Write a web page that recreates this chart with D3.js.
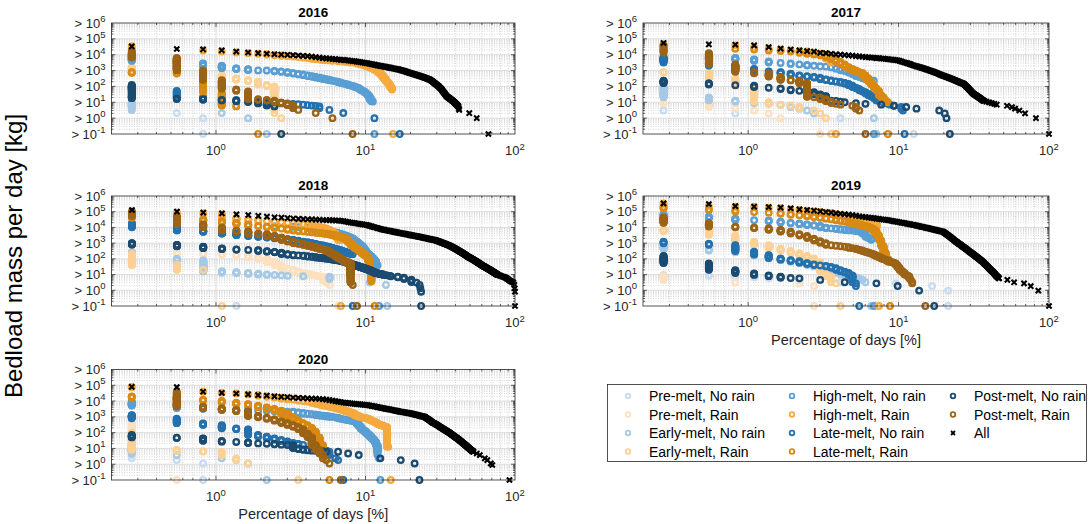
<!DOCTYPE html>
<html><head><meta charset="utf-8">
<script src="https://cdn.jsdelivr.net/npm/d3@7"></script>
<style>
body{margin:0;background:#fff;}
svg{font-family:"Liberation Sans",Arial,Helvetica,sans-serif;}
</style></head><body>
<svg id="chart" width="1092" height="524"></svg>
<script>
// Exceedance plots of daily bedload mass, one panel per year.
// Mass values are stored as log10(kg). For every threshold (the distinct
// daily masses of the year), each category is placed at the share of days
// on which its mass reached that threshold. The "> 10^-1" row holds the
// share of all days of the category (days with no transport included).

const yearList = [2016, 2017, 2018, 2019, 2020];
const daysInYear = [366, 365, 365, 365, 366];
const allDays = [243, 365, 365, 365, 336];

const categoryNames = ["Pre-melt, No rain", "Pre-melt, Rain", "Early-melt, No rain", "Early-melt, Rain",
  "High-melt, No rain", "High-melt, Rain", "Late-melt, No rain", "Late-melt, Rain",
  "Post-melt, No rain", "Post-melt, Rain"];
const categoryColors = ["#c9dcef", "#fde0bf", "#a6c9e5", "#fcd195", "#5a9fd4", "#f6aa3e",
  "#2471ae", "#d98a12", "#1b4b70", "#9c6417"];

const yTickExponents = [-1, 0, 1, 2, 3, 4, 5, 6];
const xTickExponents = [0, 1, 2];

// ---- 2016 ----
const allHead2016 = [4.53,4.36,4.34,4.27,4.2,4.14,4.1,4.06,4.03,4.01,
3.99,3.97,3.95,3.93,3.91,3.88,3.85,3.82,3.79,3.77,3.75,3.73,3.72,3.7,3.68,3.67,3.65,3.64,3.62,3.6,
3.59,3.57,3.55,3.53,3.51,3.49,3.47,3.45,3.43,3.41,3.39,3.37,3.35,3.33,3.31,3.3,3.28,3.26,3.25,3.23,
3.22,3.2,3.19,3.17,3.16,3.14,3.13,3.11,3.1,3.08,3.07,3.05,3.03,3.01,3,2.98,2.96,2.94,2.92,2.9,
2.88,2.86,2.84,2.83,2.81,2.79,2.78,2.76,2.75,2.73,2.71,2.7,2.68,2.66,2.65,2.63,2.62,2.6,2.58,2.57,
2.55,2.53,2.52,2.5,2.49,2.47,2.45,2.44,2.42,2.39,2.36,2.33,2.3,2.27,2.24,2.21,2.18,2.15,2.12,2.09,
2.06,2.03,2,1.96,1.93,1.9,1.86,1.81,1.77,1.72,1.68,1.63,1.59,1.55,1.5,1.46,1.41,1.37,1.35,1.33,
1.3,1.28,1.26,1.23,1.21,1.19,1.16,1.14,1.12,1.1,1.07,1.05,1.02,0.99,0.96,0.93,0.9,0.88,0.85,0.82,
0.79,0.77,0.74,0.63,0.52];
const allTail2016 = [[0.32,181],[0,203]];
const mass2016 = [
  [1.0,0.35,0],
  [],
  [1.0,0.5,0.32,0.32,0,0],
  [3.2,3.05,2.9,2.7,2.5,2.4,2.3,2.1,2.0,0],
  [3.9,3.6,3.45,3.3,3.15,3.08,3.02,3.0,2.98,2.95,2.9,2.85,2.8,2.75,2.7,2.65,2.6,2.55,2.5,2.45,2.42,2.38,2.34,2.3,2.25,2.2,2.16,2.12,2.08,2.04,2.0,1.95,1.9,1.83,1.76,1.68,1.6,1.5,1.37,1.2,1.05],
  [4.55,4.33,4.31,4.24,4.18,4.12,4.08,4.04,4.0,3.96,3.92,3.89,3.86,3.83,3.8,3.77,3.74,3.71,3.68,3.66,3.64,3.62,3.61,3.6,3.58,3.57,3.56,3.54,3.52,3.5,3.49,3.47,3.44,3.41,3.38,3.35,3.31,3.27,3.23,3.19,3.15,3.1,3.05,3.0,2.92,2.84,2.76,2.66,2.55,2.45,2.35,2.25,2.15,2.0,1.9,1.79],
  [2.0,1.75,1.3,1.2,1.15,1.1,1.08,1.05,1.0,0.96,0.93,0.9,0.88,0.85,0.82,0.79,0.77,0.74,0.52,0.52,0.52,0.45,0.4,0.32,0.32,0.32,0,0,0,0,0,0,0,0,0,0,0,0,0,0,0,0],
  [2.9,2.85,2.8,1.6,0.78,0.7],
  [2.1,1.25,1.2,1.15,1.1,1.05,1.0,0.9,0.78,0.7],
  [4.2,3.8,3.0,2.4,1.85,1.7,1.2,1.15,1.1,1.0,0.9,0.8,0.52,0.32,0.32,0.32,0.32,0,0,0,0,0]
];
const catDays2016 = [3,0,8,10,42,56,62,7,10,30];

// ---- 2017 ----
const allHead2017 = [4.74,4.65,4.63,4.59,4.48,4.38,4.33,4.27,4.23,4.2,
4.12,4.1,4.06,4.02,4,3.98,3.96,3.94,3.91,3.89,3.87,3.85,3.84,3.82,3.81,3.79,3.78,3.76,3.75,3.73,
3.72,3.7,3.69,3.67,3.66,3.64,3.61,3.58,3.54,3.51,3.48,3.45,3.42,3.39,3.35,3.32,3.3,3.27,3.25,3.22,
3.2,3.17,3.15,3.12,3.1,3.07,3.05,3.02,3,2.98,2.95,2.93,2.9,2.88,2.85,2.83,2.8,2.78,2.75,2.73,
2.7,2.68,2.66,2.64,2.62,2.6,2.58,2.56,2.54,2.52,2.5,2.48,2.46,2.44,2.42,2.4,2.38,2.36,2.34,2.32,
2.3,2.28,2.26,2.24,2.22,2.21,2.19,2.18,2.16,2.12,2.08,2.04,2,1.96,1.92,1.88,1.84,1.8,1.76,1.72,
1.68,1.64,1.6,1.56,1.53,1.51,1.49,1.46,1.44,1.42,1.39,1.37,1.35,1.32,1.3,1.28,1.26,1.23,1.21,1.19,
1.16,1.14,1.12,1.1];
const allTail2017 = [[1.08,136],[1.04,140],[1,146],[0.95,152],[0.9,158],[0.85,164],[0.78,192],[0.7,207],[0.6,217],[0.48,232],[0.3,253],[0,299]];
const mass2017 = [
  [0.48,0.3,0.3,0,0,0,0,0,0,0,0,0,0,0,0],
  [1.0,0.9,0.6,0.48,0.3,0],
  [2.0,1.3,1.1,1.0,0.9,0.85,0.78,0.6,0.48,0.3,0,0,0,0,0,0,0,0,0,0,0,0,0,0,0],
  [2.9,2.85,2.5,2.0,1.0,0.85,0.78,0.7,0.5,0.48,0.3,0],
  [3.9,3.85,3.8,3.7,3.6,3.5,3.45,3.4,3.35,3.3,3.28,3.25,3.22,3.18,3.1,3.0,2.95,2.85,2.75,2.65,2.58,2.5,2.45,2.38,2.36],
  [4.7,4.62,4.6,4.55,4.45,4.35,4.3,4.24,4.2,4.15,4.08,4.0,3.75,3.5],
  [3.8,3.5,3.3,3.1,2.95,2.9,2.8,2.7,2.65,2.6,2.55,2.45,2.38,2.33,2.28,2.22,2.16,2.05,1.95,1.85,1.74,1.65,1.55,1.43,1.35,1.25,1.11,1.05,1.0,0.95,0.9,0.85,0.8,0.78,0.75,0.72,0.7,0.7,0.48],
  [4.5,4.45,4.4,4.35,4.3,4.25,4.2,4.15,4.1,4.05,4.0,3.95,3.85,3.7,3.55,3.4,3.22,3.1,3.0,2.9,2.85,2.7,2.5,2.3,2.1,1.9,1.74,1.45,1.3,1.1,1.0],
  [2.37,2.2,2.1,2.05,1.95,1.9,1.8,1.74,1.7,1.64,1.5,1.4,1.1,1.08,1.04,1.0,0.95,0.95,0.95,0.9,0.9,0.9,
   0.85,0.85,0.85,0.85,0.85,0.85,0.78,0.78,0.78,0.78,0.78,0.78,0.7,0.7,0.7,0.7,0.7,0.7,0.7,
   0.6,0.6,0.6,0.6,0.6,0.6,0.6,0.48,0.48,0.48,0.48,0.48,0.48,0.48,0.48,0.48,0.48,0.48,0.48,0.48,0.48,0.48,0.48,0.48,0.48,0.48,0.48,
   0.3,0.3,0.3,0.3,0.3,0.3,0,0],
  [4.6,4.1,3.4,2.9,2.8,2.6,2.4,2.37,2.2,1.32,1.3,1.2,1.05,0.9,0.85,0.78,0.78,0.78,0.7,0.48]
];
const catDays2017 = [46,11,26,13,25,14,40,31,80,22];

// ---- 2018 ----
const allHead2018 = [5.11,5,4.94,4.9,4.83,4.79,4.73,4.69,4.64,4.62,
4.59,4.57,4.55,4.53,4.52,4.51,4.5,4.49,4.47,4.46,4.46,4.45,4.44,4.44,4.42,4.4,4.37,4.34,4.31,4.29,
4.27,4.25,4.23,4.21,4.19,4.17,4.16,4.13,4.1,4.07,4.04,4.01,3.98,3.96,3.93,3.9,3.88,3.86,3.84,3.82,
3.81,3.79,3.78,3.76,3.75,3.73,3.72,3.7,3.69,3.67,3.66,3.64,3.63,3.62,3.61,3.6,3.58,3.57,3.56,3.55,
3.54,3.53,3.51,3.5,3.49,3.48,3.47,3.46,3.45,3.44,3.43,3.42,3.41,3.4,3.39,3.38,3.37,3.36,3.35,3.34,
3.33,3.32,3.31,3.3,3.29,3.28,3.27,3.26,3.25,3.24,3.23,3.23,3.22,3.21,3.2,3.2,3.19,3.17,3.16,3.15,
3.13,3.12,3.11,3.09,3.08,3.07,3.05,3.04,3.03,3.01,3,2.99,2.97,2.96,2.95,2.93,2.92,2.91,2.89,2.88,
2.87,2.85,2.84,2.83,2.81,2.8,2.78,2.76,2.75,2.73,2.71,2.7,2.68,2.67,2.65,2.63,2.62,2.6,2.59,2.57,
2.55,2.54,2.52,2.51,2.49,2.47,2.46,2.44,2.43,2.41,2.39,2.38,2.36,2.35,2.33,2.31,2.3,2.28,2.27,2.25,
2.23,2.22,2.2,2.19,2.17,2.15,2.14,2.13,2.11,2.1,2.09,2.08,2.06,2.05,2.04,2.02,2.01,2,1.99,1.97,
1.96,1.95,1.93,1.92,1.91,1.9,1.88,1.87,1.86,1.84,1.83,1.82,1.8,1.79,1.78,1.77,1.75,1.74,1.73,1.71,
1.7,1.69,1.67,1.66,1.65,1.64,1.62,1.61,1.6,1.58,1.57,1.56,1.55,1.54,1.53,1.52,1.51,1.5,1.49,1.48,
1.47,1.46,1.45,1.44,1.43,1.42,1.41,1.4,1.39,1.38,1.37,1.36,1.35,1.34,1.33,1.32,1.31,1.3,1.29,1.28,
1.27,1.26,1.25,1.24,1.23,1.22,1.21,1.2,1.19,1.18,1.17,1.16,1.15,1.14,1.13,1.12,1.11,1.1,1.09,1.08,
1.07,1.06,1.05,1.04,1.03,1.02,1.01,1,0.99,0.98];
const allTail2018 = [[0.95,287],[0.92,293],[0.89,299],[0.86,305],[0.83,311],[0.8,316],[0.76,321],[0.72,326],[0.67,331],[0.62,337],[0.57,343],[0.53,349],[0.49,356],[0.34,361],[0.13,363],[-0.09,365]];
const mass2018 = [
  [1.8,1.6,1.4,1.2,1.1],
  [2.5,2.4,2.35,2.3,2.25,2.2,2.1,2.0,1.8,1.6,1.35,1.29,1.2,1.1,1.05,1.0,0.95,0.9,0.87,0.6,0.34],
  [2.4,2.0,1.9,1.2,1.15,1.1,1.05,1.0,0.98,0.95,0.93,0.91,0.9,0.89,0.88,0.86,0.86,0.86,0.86,0.86,0.86,
   0.67,0.67,0.67,0.67,0.67,0.67,0.67,0.67,0.49,0.49,0.49,0.49,0.49,0.49,0.49,0.49,0.49,0.49,
   0.34,0.34,0.34,0.34,0.34,0.34,0.34,0.34,0.34,0.34,0.34],
  [2.3,1.6,1.3],
  [4.3,4.2,4.15,4.12,4.1,4.1,4.09,4.08,4.07,4.06,4.05,4.04,4.02,4.0,3.98,3.95,3.92,3.88,3.84,3.8,3.76,3.72,3.68,3.63,3.58,3.53,3.48,3.42,3.36,3.3,3.2,3.1,3.0,2.9,2.8,2.65,2.5,2.35,2.25,2.15,2.05,1.95,1.8,1.6],
  [5.1,4.95,4.9,4.85,4.6,4.5,4.45,4.4,4.38,4.35,4.3,4.28,4.25,4.22,4.2,4.15,4.1,4.05,4.0,3.95,3.85,3.75,3.6,3.4,3.2],
  [4.2,4.0,3.8,3.7,3.6,3.5,3.45,3.4,3.35,3.3,3.25,3.2,3.15,3.1,3.05,3.0,2.95,2.9,2.85,2.8,2.75,2.7,2.65,2.6,2.55,2.5,2.45,2.4,2.35,2.3],
  [4.7,4.6,4.5,4.4,4.3,4.2,4.1,4.05,4.0,3.95,3.9,3.84,3.8,3.77,3.74,3.71,3.68,3.65,3.62,3.6,3.57,3.54,3.5,3.46,3.41,3.36,3.3,3.2,3.05,2.9,2.78,2.67,2.6,2.5,2.4,2.3,2.22,2.14,1.9,1.29,0.55],
  [3.0,2.9,2.78,2.67,2.6,2.57,2.55,2.5,2.45,2.4,2.3,2.25,2.22,2.2,2.17,2.14,2.11,2.08,2.05,2.03,2.0,1.97,1.94,1.91,1.88,1.85,1.8,1.75,1.7,1.65,
   1.61,1.57,1.53,1.49,1.45,1.41,1.37,1.33,1.29,1.25,1.2,1.15,1.1,1.08,1.06,1.04,1.02,1.0,0.98,0.95,0.95,0.92,0.92,0.89,
   0.86,0.86,0.86,0.86,0.86,0.86,0.8,0.8,0.8,0.8,0.8,0.8,0.67,0.67,0.67,0.67,0.67,0.67,0.67,0.67,
   0.49,0.49,0.49,0.49,0.49,0.49,0.34,0.34,0.34,0.34,0.13,-0.09],
  [5.0,4.7,4.2,4.0,3.8,3.75,3.6,3.55,3.45,3.35,3.2,3.1,3.0,2.95,2.88,2.82,2.75,2.68,2.62,2.57,2.47,2.37,2.25,2.14,2.03,1.95,1.85,1.78,1.72,0.34]
];
const catDays2018 = [5,24,51,4,45,25,30,42,86,32];

// ---- 2019 ----
const allHead2019 = [5.53,5.49,5.36,5.32,5.3,5.26,5.22,5.15,5.11,5.07,
5.02,4.98,4.94,4.9,4.87,4.84,4.81,4.78,4.75,4.71,4.68,4.66,4.63,4.61,4.59,4.56,4.54,4.52,4.5,4.48,
4.46,4.44,4.42,4.39,4.37,4.35,4.33,4.31,4.29,4.27,4.25,4.23,4.21,4.19,4.17,4.16,4.14,4.12,4.1,4.08,
4.06,4.04,4.03,4.01,3.99,3.97,3.96,3.94,3.92,3.91,3.89,3.87,3.86,3.84,3.83,3.81,3.8,3.78,3.77,3.75,
3.74,3.73,3.69,3.65,3.61,3.57,3.53,3.49,3.45,3.41,3.37,3.33,3.29,3.25,3.21,3.17,3.13,3.09,3.06,3.03,
2.99,2.96,2.93,2.9,2.87,2.83,2.8,2.77,2.74,2.71,2.68,2.65,2.62,2.59,2.56,2.53,2.5,2.46,2.43,2.41,
2.38,2.35,2.33,2.3,2.27,2.24,2.22,2.19,2.16,2.14,2.11,2.08,2.06,2.03,2,1.98,1.95,1.92,1.9,1.87,
1.85,1.82,1.79,1.76,1.73,1.7,1.67,1.64,1.61,1.58,1.55,1.52,1.49,1.46,1.43,1.4,1.37,1.34,1.31,1.28,
1.25,1.23,1.21,1.19,1.16,1.13,1.1,1.07,1.04,1.01,0.98,0.95,0.92,0.9,0.87,0.85,0.83,0.81,0.78,0.76];
const allTail2019 = [[0.66,193],[0.51,214],[0.44,249],[0.27,276],[-0.02,310]];
const mass2019 = [
  [1.0,0.95,0.9,0.85,0.81,0.76,0.7,0.66,0.6,0.55,0.51,0.51,0.51,0.51,0.51,
   0.44,0.44,0.44,0.44,0.44,0.44,0.44,0.44,0.44,0.44,0.44,0.44,0.44,0.44,0.44,0.44,0.44,0.44,0.44,0.44,
   0.27,0.27,0.27,0.27,0.27,0.27,0.27,0.27,0.27,0.27,0.27,0.27,0.27,0.27,0.27,0.27,0.27,0.27,0.27,0.27,0.27,0.27,0.27,0.27,0.27,0.27,
   -0.02,-0.02,-0.02,-0.02,-0.02,-0.02,-0.02,-0.02,-0.02,-0.02,-0.02,-0.02,-0.02,-0.02,-0.02,-0.02,-0.02],
  [0.9,0.55,0.51,0.45,0.44,0.44,0.44,0.44,0.3,0.27],
  [2.85,2.6,2.5,2.4,2.2,2.0,1.9,1.8,1.7,1.6,1.5,1.4,1.3,1.2,1.1,1.0,0.9,0.85,0.81,0.76,0.66,0.51],
  [3.85,3.75,3.5,3.1,2.88,2.67,2.5,2.35,2.2,2.05,1.8,1.2,0.87,0.44],
  [4.85,4.68,4.58,4.47,4.45,4.37,4.3,4.25,4.2,4.15,4.1,4.0,3.95,3.92,3.89,3.86,3.83,3.8,3.78,3.76,3.73,3.6,3.4,3.3,3.2],
  [5.55,5.45,5.35,5.3,5.28,5.24,5.2,5.12,5.08,5.04,5.0,4.95,4.9,4.86,4.8,4.75,4.7,4.65,4.6,4.55,4.5,4.45,4.4,4.35,4.3,4.26,4.0],
  [3.1,2.98,2.88,2.46,2.25,2.03,1.93,1.85,1.75,1.65,1.6,1.55,1.5,1.4,1.29,1.19,1.1,0.97,0.5,0.23],
  [5.3,5.2,5.1,5.0,4.95,4.9,4.85,4.8,4.75,4.7,4.65,4.6,4.55,4.5,4.45,4.4,4.35,4.3,4.25,4.2,4.15,4.1,4.05,4.0,3.9,3.75,3.5,3.2,2.8,2.4,2.0,1.8],
  [2.2,1.72,1.3,1.08,0.97,0.87,0.78,0.76,0.7,0.66,0.66,0.6,0.51,0.51,0.51,0.51,
   0.44,0.44,0.44,0.44,0.44,0.44,0.44,0.44,0.44,0.44,0.27,0.27,0.27,0.27,0.27,0.27,0.27,0.27,0.27,0.27,
   -0.02,-0.02,-0.02,-0.02,-0.02,-0.02,-0.02,-0.02,-0.02,-0.02,-0.02,-0.02,-0.02,-0.02],
  [4.65,4.28,4.05,4.0,3.94,3.84,3.73,3.6,3.45,3.3,3.15,3.0,2.88,2.85,2.82,2.78,2.74,2.7,2.67,2.6,2.54,2.48,2.42,2.36,2.3,2.22,2.14,2.08,2.02,1.96,1.9,1.85,1.8,1.76,1.72,1.6,1.45,1.29,1.2,1.1,1.0,0.95,0.87,0.7,0.55,0.34]
];
const catDays2019 = [78,10,24,15,25,27,20,32,63,55];

// ---- 2020 ----
const allHead2020 = [4.9,4.88,4.59,4.52,4.48,4.42,4.38,4.34,4.3,4.27,
4.25,4.22,4.2,4.19,4.17,4.16,4.15,4.13,4.12,4.09,4.06,4.03,4,3.97,3.94,3.91,3.89,3.87,3.85,3.84,
3.82,3.81,3.8,3.79,3.78,3.76,3.75,3.74,3.72,3.7,3.68,3.66,3.64,3.62,3.6,3.58,3.56,3.55,3.53,3.51,
3.5,3.48,3.47,3.45,3.44,3.42,3.41,3.39,3.38,3.36,3.35,3.33,3.32,3.31,3.3,3.29,3.28,3.27,3.26,3.25,
3.24,3.23,3.22,3.21,3.2,3.18,3.17,3.16,3.14,3.13,3.12,3.1,3.09,3.08,3.06,3.05,3.04,3.03,3.02,3.01,
3,2.97,2.94,2.91,2.88,2.85,2.82,2.79,2.76,2.73,2.7,2.67,2.64,2.61,2.6,2.58,2.56,2.54,2.51,2.49,
2.47,2.44,2.42,2.4,2.37,2.35,2.33,2.3,2.28,2.26,2.24,2.22,2.2,2.18,2.16,2.14,2.12,2.1,2.08,2.06,
2.04,2.02,2,1.98,1.96,1.93,1.91,1.89,1.87,1.85,1.83,1.8,1.78,1.76,1.74,1.72,1.7,1.68,1.66,1.64,
1.62,1.6,1.58,1.56,1.54,1.51,1.49,1.47,1.45,1.43,1.41,1.38,1.36,1.34,1.32,1.3,1.28,1.26,1.24,1.22,
1.2,1.18,1.16,1.14,1.12,1.1,1.08,1.06,1.04,1.02,1,0.98,0.96,0.94,0.92,0.9,0.88,0.86,0.85,0.84,
0.82,0.8,0.79];
const allTail2020 = [[0.68,203],[0.58,213],[0.37,230],[0.26,239],[0.05,252],[-0.05,258]];
const mass2020 = [
  [0.9,0.3,0.05],
  [2.6,1.5],
  [1.3,0.58,0.55,0.5,0.26,0.05],
  [2.0,0.9,0.83,0.79,0.37,0.05],
  [3.95,3.7,3.55,3.5,3.45,3.42,3.4,3.38,3.36,3.35,3.33,3.32,3.28,3.24,3.2,3.17,3.14,3.11,3.08,3.05,3.02,3.0,2.97,2.94,2.9,2.87,2.84,2.8,2.77,2.74,2.71,2.69,2.55,2.4,2.25,2.15,2.06,1.95,1.85,1.75,1.65,1.55,1.42,1.21,0.37],
  [4.9,4.8,4.59,4.52,4.48,4.42,4.38,4.3,4.25,4.2,4.15,4.1,4.06,4.02,3.98,3.94,3.88,3.82,3.76,3.7,3.66,3.62,3.58,3.54,3.5,3.45,3.4,3.35,3.3,3.25,3.2,3.1,3.05,3.0,2.97,2.94,2.91,2.88,2.85,2.8,2.75,2.7,2.65,2.6,2.55,2.5,2.47,2.44,2.41,2.38,2.35,1.1],
  [3.11,2.9,2.58,2.48,2.27,2.2,1.85,1.75,1.65,1.55,1.45,1.35,1.28,1.22,1.21,1.2,1.1,1.0,0.9,0.85,0.79,0.5,0.37,0.26],
  [4.3,4.2,4.1,4.0,3.9,3.8,3.7,3.6,3.5,3.4,3.2,3.0,2.8,2.6,2.48,2.3,2.06,1.7,1.21,0.26],
  [1.85,1.68,1.64,1.47,1.42,1.4,1.32,1.3,1.28,1.25,1.22,1.2,1.0,0.95,0.9,0.86,0.85,0.84,0.82,0.8,0.79,0.79,0.79,0.79,
   0.68,0.68,0.68,0.68,0.58,0.58,0.58,0.58,0.58,0.37,0.37,0.37,0.37,0.37,0.37,0.37,0.37,0.37,0.37,0.37,0.37,0.37,
   0.26,0.26,0.26,0.26,0.26,0.26,0.26,0.26,0.26,0.26,0.26,0.26,0.26,0.26,0.26,0.26,0.26,
   0.05,0.05,0.05,0.05,0.05,0.05,0.05,0.05,0.05,0.05,0.05,0.05,0.05,0.05,0.05],
  [4.85,4.75,3.64,3.53,3.43,3.35,3.05,2.95,2.85,2.75,2.6,2.48,2.35,2.2,1.95,1.7,1.21,0.9,0.58,0.26,0.05]
];
const catDays2020 = [3,2,8,13,46,54,26,21,84,25];

// table linking each year to its arrays
const yearTable = {
  2016: {head: allHead2016, tail: allTail2016, mass: mass2016, days: catDays2016},
  2017: {head: allHead2017, tail: allTail2017, mass: mass2017, days: catDays2017},
  2018: {head: allHead2018, tail: allTail2018, mass: mass2018, days: catDays2018},
  2019: {head: allHead2019, tail: allTail2019, mass: mass2019, days: catDays2019},
  2020: {head: allHead2020, tail: allTail2020, mass: mass2020, days: catDays2020}
};

// panel frames (pixels)
const panels = [
  {x0: 111.5, x1: 515, y0: 23, y1: 134},
  {x0: 643, x1: 1049, y0: 23, y1: 134},
  {x0: 111.5, x1: 515, y0: 196, y1: 306},
  {x0: 643, x1: 1049, y0: 196, y1: 306},
  {x0: 111.5, x1: 515, y0: 369.5, y1: 480}
];
const xLabelPanels = [3, 4];

const svg = d3.select("#chart");
const axisColor = "#262626";

function exceedPoints(values, days, levels, n) {
  const pts = [];
  if (values.length) {
    const lo = d3.min(values), hi = d3.max(values);
    levels.forEach(L => {
      if (L > hi + 1e-9 || L < lo - 1e-9) return;
      const c = values.filter(v => v >= L - 1e-9).length;
      if (c > 0) pts.push([100 * c / n, Math.max(Math.pow(10, L), 0.1)]);
    });
  }
  if (days > 0) pts.push([100 * days / n, 0.1]);
  return pts;
}

yearList.forEach((year, yi) => {
  const p = panels[yi];
  const d = yearTable[year];
  const n = daysInYear[yi];
  const x = d3.scaleLog().domain([0.2, 100]).range([p.x0, p.x1]);
  const y = d3.scaleLog().domain([0.1, 1e6]).range([p.y1, p.y0]);
  const g = svg.append("g");

  // grid
  const minorX = [], minorY = [];
  [0.1, 1, 10].forEach(dec => { for (let m = 2; m <= 9; m++) { const v = m * dec; if (v > 0.2 && v < 100) minorX.push(v); } });
  [0.1, 1, 10, 100, 1e3, 1e4, 1e5].forEach(dec => { for (let m = 2; m <= 9; m++) minorY.push(m * dec); });
  const majorX = [1, 10];
  const majorY = [1, 10, 100, 1e3, 1e4, 1e5];
  const grid = g.append("g");
  grid.selectAll(".mx").data(minorX).join("line")
    .attr("x1", v => x(v)).attr("x2", v => x(v)).attr("y1", p.y0).attr("y2", p.y1)
    .attr("stroke", "#bdbdbd").attr("stroke-width", 0.6).attr("stroke-dasharray", "1,1.5");
  grid.selectAll(".my").data(minorY).join("line")
    .attr("y1", v => y(v)).attr("y2", v => y(v)).attr("x1", p.x0).attr("x2", p.x1)
    .attr("stroke", "#bdbdbd").attr("stroke-width", 0.6).attr("stroke-dasharray", "1,1.5");
  grid.selectAll(".Mx").data(majorX).join("line")
    .attr("x1", v => x(v)).attr("x2", v => x(v)).attr("y1", p.y0).attr("y2", p.y1)
    .attr("stroke", "#d9d9d9").attr("stroke-width", 0.9);
  grid.selectAll(".My").data(majorY).join("line")
    .attr("y1", v => y(v)).attr("y2", v => y(v)).attr("x1", p.x0).attr("x2", p.x1)
    .attr("stroke", "#d9d9d9").attr("stroke-width", 0.9);

  // ticks on all four sides, pointing inwards
  const ticks = g.append("g").attr("stroke", axisColor).attr("stroke-width", 0.7);
  const xt = majorX.map(v => [v, 4]).concat(minorX.map(v => [v, 2]));
  xt.forEach(([v, len]) => {
    ticks.append("line").attr("x1", x(v)).attr("x2", x(v)).attr("y1", p.y1).attr("y2", p.y1 - len);
    ticks.append("line").attr("x1", x(v)).attr("x2", x(v)).attr("y1", p.y0).attr("y2", p.y0 + len);
  });
  const yt = majorY.map(v => [v, 4]).concat(minorY.map(v => [v, 2]));
  yt.forEach(([v, len]) => {
    ticks.append("line").attr("y1", y(v)).attr("y2", y(v)).attr("x1", p.x0).attr("x2", p.x0 + len);
    ticks.append("line").attr("y1", y(v)).attr("y2", y(v)).attr("x1", p.x1).attr("x2", p.x1 - len);
  });

  // tick labels
  yTickExponents.forEach(e => {
    const t = g.append("text").attr("x", p.x0 - 6).attr("y", y(Math.pow(10, e)) + 4.5)
      .attr("text-anchor", "end").attr("font-size", 13).attr("fill", axisColor);
    t.append("tspan").text("> 10");
    t.append("tspan").attr("dy", -5.5).attr("font-size", 9.5).text(e);
  });
  xTickExponents.forEach(e => {
    const t = g.append("text").attr("x", x(Math.pow(10, e))).attr("y", p.y1 + 21)
      .attr("text-anchor", "middle").attr("font-size", 13).attr("fill", axisColor);
    t.append("tspan").text("10");
    t.append("tspan").attr("dy", -5.5).attr("font-size", 9.5).text(e);
  });

  // title
  g.append("text").attr("x", (p.x0 + p.x1) / 2).attr("y", p.y0 - 6)
    .attr("text-anchor", "middle").attr("font-size", 13.5).attr("font-weight", "bold")
    .attr("fill", "#000").text(year);

  if (xLabelPanels.includes(yi)) {
    g.append("text").attr("x", (p.x0 + p.x1) / 2).attr("y", p.y1 + 39)
      .attr("text-anchor", "middle").attr("font-size", 14.5).attr("fill", axisColor)
      .text("Percentage of days [%]");
  }

  // thresholds = distinct daily masses of the year
  const levels = Array.from(new Set(d.head.concat(d.tail.map(t => t[0])))).sort((a, b) => b - a);

  const marks = g.append("g");
  d.mass.forEach((vals, ci) => {
    const pts = exceedPoints(vals, d.days[ci], levels, n);
    marks.append("g").selectAll("circle").data(pts).join("circle")
      .attr("cx", q => x(q[0])).attr("cy", q => y(q[1])).attr("r", 2.8)
      .attr("fill", "none").attr("stroke", categoryColors[ci]).attr("stroke-width", 2.3);
  });

  // all days together
  const allPts = d.head.map((v, i) => [100 * (i + 1) / n, Math.pow(10, v)])
    .concat(d.tail.map(t => [100 * t[1] / n, Math.max(Math.pow(10, t[0]), 0.1)]))
    .concat([[100 * allDays[yi] / n, 0.1]]);
  marks.append("g").selectAll("path").data(allPts).join("path")
    .attr("transform", q => `translate(${x(q[0])},${y(q[1])})`)
    .attr("d", "M-2.6,-2.6L2.6,2.6M-2.6,2.6L2.6,-2.6")
    .attr("stroke", "#000").attr("stroke-width", 2.1).attr("fill", "none");

  // frame
  g.append("rect").attr("x", p.x0).attr("y", p.y0).attr("width", p.x1 - p.x0).attr("height", p.y1 - p.y0)
    .attr("fill", "none").attr("stroke", axisColor).attr("stroke-width", 0.8);
});

// shared y label
svg.append("text").attr("transform", "translate(22,256) rotate(-90)")
  .attr("text-anchor", "middle").attr("font-size", 24).attr("fill", "#000")
  .text("Bedload mass per day [kg]");

// legend
const lg = svg.append("g");
lg.append("rect").attr("x", 607.5).attr("y", 384.5).attr("width", 479).attr("height", 77)
  .attr("fill", "#fff").attr("stroke", axisColor).attr("stroke-width", 0.8);
const colX = [628, 792, 953];
const rowY = [396, 414.5, 433, 451.5];
const legendItems = categoryNames.map((name, i) => ({name, color: categoryColors[i]}))
  .concat([{name: "All", color: "#000"}]);
legendItems.forEach((item, i) => {
  const cx = colX[Math.floor(i / 4)], cy = rowY[i % 4];
  if (item.name === "All") {
    lg.append("path").attr("transform", `translate(${cx},${cy})`)
      .attr("d", "M-2,-2L2,2M-2,2L2,-2").attr("stroke", "#000").attr("stroke-width", 1.8);
  } else {
    lg.append("circle").attr("cx", cx).attr("cy", cy).attr("r", 2.3)
      .attr("fill", "none").attr("stroke", item.color).attr("stroke-width", 1.8);
  }
  lg.append("text").attr("x", cx + 21).attr("y", cy + 5).attr("font-size", 14)
    .attr("fill", "#000").text(item.name);
});
</script></body></html>
